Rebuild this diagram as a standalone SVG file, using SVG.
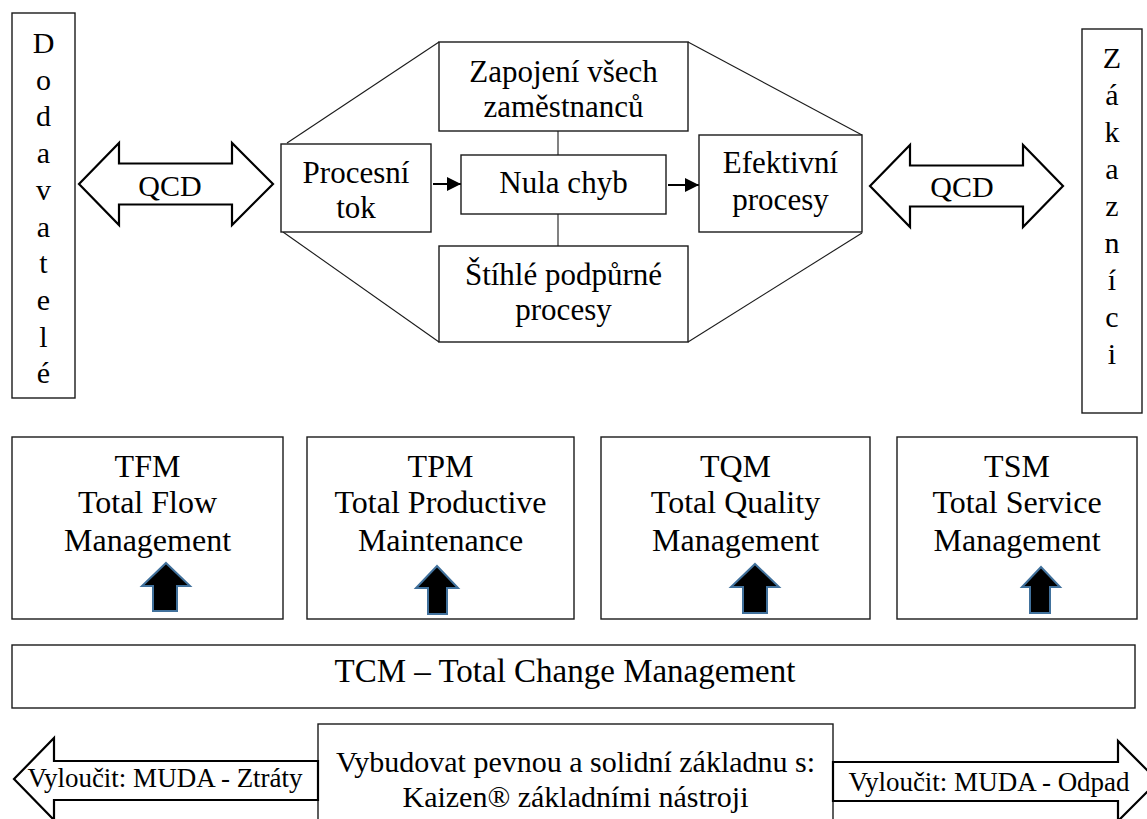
<svg xmlns="http://www.w3.org/2000/svg" width="1147" height="819" viewBox="0 0 1147 819">
  <style>
    text { font-family: "Liberation Serif", "Times New Roman", serif; fill: #000; }
    .box { fill: #fff; stroke: #1a1a1a; stroke-width: 1.4; }
    .thin { stroke: #1a1a1a; stroke-width: 1.1; fill: none; }
    .big { fill: #fff; stroke: #000; stroke-width: 2.2; stroke-linejoin: miter; }
    .up { fill: #000; stroke: #41719c; stroke-width: 2; }
    .t31 { font-size: 31px; text-anchor: middle; }
    .t32 { font-size: 32px; text-anchor: middle; }
    .t33 { font-size: 33px; text-anchor: middle; }
    .t30 { font-size: 30px; text-anchor: middle; }
    .t27 { font-size: 27px; text-anchor: middle; }
    .v30 { font-size: 30px; text-anchor: middle; }
  </style>
  <defs>
    <marker id="head" viewBox="0 0 10 10" refX="10" refY="5" markerWidth="16" markerHeight="14" markerUnits="userSpaceOnUse" orient="auto">
      <path d="M0,0 L10,5 L0,10 Z" fill="#000"/>
    </marker>
  </defs>

  <rect width="1147" height="819" fill="#fff"/>

  <!-- connectors: hexagon outline, links and flow arrows -->
  <g id="connectors">
    <line class="thin" x1="287" y1="143" x2="439" y2="42"/>
    <line class="thin" x1="688" y1="42" x2="862" y2="135"/>
    <line class="thin" x1="283" y1="232" x2="439" y2="342"/>
    <line class="thin" x1="862" y1="233" x2="688" y2="342"/>
    <line class="thin" x1="558" y1="131" x2="558" y2="155"/>
    <line class="thin" x1="558" y1="214" x2="558" y2="246"/>
    <line x1="433" y1="184" x2="461" y2="184" stroke="#000" stroke-width="2" marker-end="url(#head)"/>
    <line x1="668" y1="185" x2="699" y2="185" stroke="#000" stroke-width="2" marker-end="url(#head)"/>
  </g>

  <!-- suppliers -->
  <g id="dodavatele">
    <rect class="box" x="12" y="13" width="63" height="385"/>
    <text class="v30" x="43.5" y="53">D</text>
    <text class="v30" x="43.5" y="89.7">o</text>
    <text class="v30" x="43.5" y="126.4">d</text>
    <text class="v30" x="43.5" y="163">a</text>
    <text class="v30" x="43.5" y="199.8">v</text>
    <text class="v30" x="43.5" y="236.5">a</text>
    <text class="v30" x="43.5" y="273">t</text>
    <text class="v30" x="43.5" y="310">e</text>
    <text class="v30" x="43.5" y="346.6">l</text>
    <text class="v30" x="43.5" y="383">é</text>
  </g>

  <!-- customers -->
  <g id="zakaznici">
    <rect class="box" x="1082" y="29" width="60" height="384"/>
    <text class="v30" x="1112" y="68.3">Z</text>
    <text class="v30" x="1112" y="105.2">á</text>
    <text class="v30" x="1112" y="142.1">k</text>
    <text class="v30" x="1112" y="179">a</text>
    <text class="v30" x="1112" y="215.9">z</text>
    <text class="v30" x="1112" y="252.8">n</text>
    <text class="v30" x="1112" y="289.7">í</text>
    <text class="v30" x="1112" y="326.6">c</text>
    <text class="v30" x="1112" y="363.5">i</text>
  </g>

  <!-- QCD double arrows -->
  <g id="qcd-left">
    <polygon class="big" points="79,184 119,143 119,163.5 232,163.5 232,143 273,184 232,225 232,204.5 119,204.5 119,225"/>
    <text class="t30" x="170" y="196">QCD</text>
  </g>
  <g id="qcd-right">
    <polygon class="big" points="870,186 910,145 910,165.5 1023,165.5 1023,145 1063,186 1023,227 1023,206.5 910,206.5 910,227"/>
    <text class="t30" x="962" y="197">QCD</text>
  </g>

  <!-- central process boxes -->
  <g id="zapojeni">
    <rect class="box" x="439" y="42" width="249" height="89"/>
    <text class="t31" x="563.5" y="82">Zapojení všech</text>
    <text class="t31" x="563.5" y="117">zaměstnanců</text>
  </g>
  <g id="procesni-tok">
    <rect class="box" x="281" y="144" width="150" height="88"/>
    <text class="t31" x="356" y="183">Procesní</text>
    <text class="t31" x="356" y="218">tok</text>
  </g>
  <g id="nula-chyb">
    <rect class="box" x="461" y="155" width="205" height="59"/>
    <text class="t31" x="563.5" y="193">Nula chyb</text>
  </g>
  <g id="efektivni">
    <rect class="box" x="699" y="135" width="163" height="97"/>
    <text class="t31" x="780.5" y="173">Efektivní</text>
    <text class="t31" x="780.5" y="210">procesy</text>
  </g>
  <g id="stihle">
    <rect class="box" x="439" y="246" width="249" height="96"/>
    <text class="t31" x="563.5" y="285">Štíhlé podpůrné</text>
    <text class="t31" x="563.5" y="320">procesy</text>
  </g>

  <!-- management pillars -->
  <g id="tfm">
    <rect class="box" x="12" y="437" width="271" height="182"/>
    <text class="t32" x="147.5" y="477">TFM</text>
    <text class="t32" x="147.5" y="513">Total Flow</text>
    <text class="t32" x="147.5" y="551">Management</text>
    <polygon class="up" points="166,563 190,586 177,586 177,611 153,611 153,586 142,586"/>
  </g>
  <g id="tpm">
    <rect class="box" x="307" y="437" width="267" height="182"/>
    <text class="t32" x="440.5" y="477">TPM</text>
    <text class="t32" x="440.5" y="513">Total Productive</text>
    <text class="t32" x="440.5" y="551">Maintenance</text>
    <polygon class="up" points="437,566 458,588 447,588 447,614 428,614 428,588 416,588"/>
  </g>
  <g id="tqm">
    <rect class="box" x="601" y="437" width="269" height="182"/>
    <text class="t32" x="735.5" y="477">TQM</text>
    <text class="t32" x="735.5" y="513">Total Quality</text>
    <text class="t32" x="735.5" y="551">Management</text>
    <polygon class="up" points="755,564 779,587 767,587 767,613 743,613 743,587 731,587"/>
  </g>
  <g id="tsm">
    <rect class="box" x="897" y="437" width="240" height="182"/>
    <text class="t32" x="1017" y="477">TSM</text>
    <text class="t32" x="1017" y="513">Total Service</text>
    <text class="t32" x="1017" y="551">Management</text>
    <polygon class="up" points="1041,567 1060,587 1050,587 1050,613 1030,613 1030,587 1022,587"/>
  </g>

  <!-- change management band -->
  <g id="tcm">
    <rect class="box" x="12" y="645" width="1123" height="63"/>
    <text class="t33" x="565" y="682">TCM – Total Change Management</text>
  </g>

  <!-- foundation -->
  <g id="zakladna">
    <rect class="box" x="318" y="724" width="515" height="110"/>
    <text class="t30" x="575.5" y="772">Vybudovat pevnou a solidní základnu s:</text>
    <text class="t30" x="575.5" y="807">Kaizen® základními nástroji</text>
  </g>
  <g id="muda-ztraty">
    <polygon class="big" points="14,779 54,738 54,761 318,761 318,800 54,800 54,820"/>
    <text class="t27" x="165" y="787">Vyloučit: MUDA - Ztráty</text>
  </g>
  <g id="muda-odpad">
    <polygon class="big" points="833,762 1118,762 1118,741 1158,781 1118,821 1118,801 833,801"/>
    <text class="t27" x="989" y="791">Vyloučit: MUDA - Odpad</text>
  </g>
</svg>
